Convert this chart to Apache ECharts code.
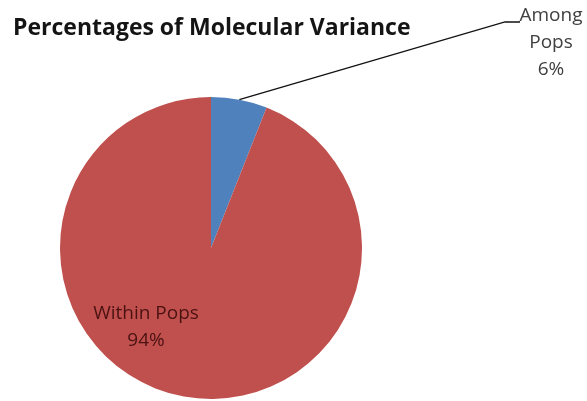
<!DOCTYPE html>
<html><head><meta charset="utf-8">
<script src="https://cdn.jsdelivr.net/npm/echarts@6/dist/echarts.min.js"></script>
<style>html,body{margin:0;padding:0;background:#fff}#c{width:587px;height:401px}</style>
</head><body><div id="c"></div>
<script>
const categories = ['Among Pops', 'Within Pops'];
const values = [6, 94];
const labelLines = [['Among', 'Pops', '6%'], ['Within Pops', '94%']];
const colors = ['#4F81BD', '#C0504D'];

const chart = echarts.init(document.getElementById('c'), null, {renderer: 'canvas'});
chart.setOption({
  animation: false,
  backgroundColor: '#ffffff',
  title: {
    text: 'Percentages of Molecular Variance',
    left: 8, top: 12,
    textStyle: {fontFamily: 'Open Sans', fontWeight: 'bold', fontSize: 23, color: '#141414'}
  },
  series: [{
    type: 'pie',
    center: [211, 248],
    radius: 151,
    startAngle: 90,
    clockwise: true,
    data: categories.map((c, i) => ({
      name: c, value: values[i],
      itemStyle: {color: colors[i]},
      label: i === 0 ? {
        show: true, position: 'outside',
        formatter: labelLines[0].join('\n'),
        fontFamily: 'Open Sans', fontSize: 19, lineHeight: 27, color: '#404040', align: 'center'
      } : {
        show: true, position: 'inside',
        formatter: labelLines[1].join('\n'),
        fontFamily: 'Open Sans', fontSize: 19, lineHeight: 27, color: '#4a1212', align: 'center'
      },
      labelLine: i === 0 ? {show: true, length: 20, length2: 10, lineStyle: {color: '#111', width: 1.3}} : {show: false}
    })),
    labelLayout: function (p) {
      if (p.dataIndex === 0) {
        const s = p.labelLinePoints ? p.labelLinePoints[0] : [239, 100];
        return {x: 551, y: 43, align: 'center', verticalAlign: 'middle',
                labelLinePoints: [s, [505, 22], [520, 22]]};
      }
      return {x: 146, y: 327, align: 'center', verticalAlign: 'middle'};
    }
  }]
});
</script></body></html>
